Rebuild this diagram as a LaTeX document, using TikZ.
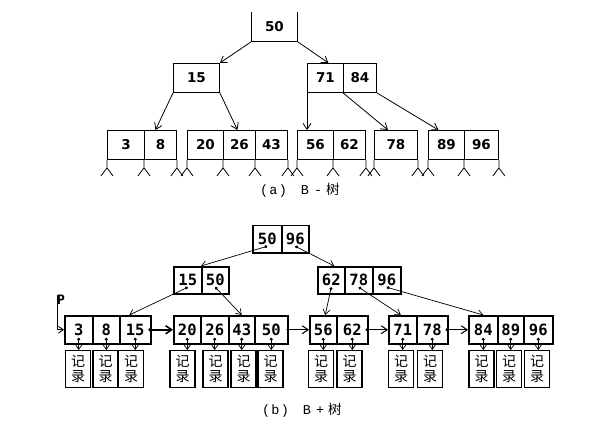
\documentclass[tikz,border=0pt]{standalone}
\usepackage{fontspec}
\usetikzlibrary{arrows.meta}
\newfontfamily\numa{DejaVu Sans}
\newfontfamily\numb{DejaVu Sans Mono}
\newfontfamily\cjk{Noto Sans CJK SC}
\newfontfamily\capmono{Liberation Mono}
\tikzset{
  acell/.style={draw, line width=0.9pt, minimum height=29pt, inner sep=0pt, anchor=north west,
    font=\numa\bfseries\fontsize{13.5}{14}\selectfont},
  bcell/.style={draw, line width=1.5pt, inner sep=0pt, anchor=north west,
    font=\numb\bfseries\fontsize{15.5}{16}\selectfont},
  rec/.style={draw, line width=1.1pt, minimum width=25pt, minimum height=37pt, inner sep=0pt,
    anchor=north, align=center, font=\cjk\fontsize{14}{15}\selectfont},
  aarr/.style={line width=0.8pt, -{Straight Barb[length=6pt,width=8pt]}},
  stem/.style={line width=0.8pt},
  ptr/.style={line width=0.7pt, {Circle[length=3pt]}-{Straight Barb[length=5pt,width=7pt]}},
  lnk/.style={line width=1pt, {Circle[length=3pt]}-{Straight Barb[length=6pt,width=8pt]}},
  captxt/.style={font=\capmono\fontsize{13.5}{14}\selectfont, inner sep=0pt, anchor=west}
}
\begin{document}
\begin{tikzpicture}[x=1pt,y=-1pt]
\useasboundingbox (0,0) rectangle (595,425);
% ---------------- (a) B-tree ----------------
\node[acell, draw=none, minimum width=46pt] (a50) at (251,12) {50};
\draw[line width=0.9pt] (a50.north west) -- (a50.south west) -- (a50.south east) -- (a50.north east);
\node[acell, minimum width=46pt] (a15) at (173,63) {15};
\node[acell, minimum width=36pt] (a71) at (307,63) {71};
\node[acell, minimum width=33pt] (a84) at (343,63) {84};
\node[acell, minimum width=37pt] (a3) at (107,130) {3};
\node[acell, minimum width=32pt] (a8) at (144,130) {8};
\node[acell, minimum width=36pt] (a20) at (187,130) {20};
\node[acell, minimum width=32pt] (a26) at (223,130) {26};
\node[acell, minimum width=32pt] (a43) at (255,130) {43};
\node[acell, minimum width=36pt] (a56) at (297,130) {56};
\node[acell, minimum width=32pt] (a62) at (333,130) {62};
\node[acell, minimum width=43pt] (a78) at (374,130) {78};
\node[acell, minimum width=36pt] (a89) at (428,130) {89};
\node[acell, minimum width=34pt] (a96) at (464,130) {96};
\foreach \c in {a3.south west, a8.south west, a8.south east, a20.south west, a26.south west,
  a43.south west, a43.south east, a56.south west, a62.south west, a62.south east,
  a78.south west, a78.south east, a89.south west, a96.south west, a96.south east}
  {\draw[stem] (\c) -- ++(0,8) coordinate (t) -- ++(-6,8) (t) -- ++(6,8);}
\draw[aarr] (a50.south west) -- (a15.north east);
\draw[aarr] (a50.south east) -- ([xshift=3pt]a71.north);
\draw[aarr] (a15.south west) -- ([xshift=-5pt]a8.north);
\draw[aarr] (a15.south east) -- ([xshift=-2pt]a26.north);
\draw[aarr] (a71.south west) -- (a71.south west |- a56.north);
\draw[aarr] (a84.south west) -- ([xshift=-8pt]a78.north);
\draw[aarr] (a84.south east) -- ([xshift=-8pt]a89.north);
\node[captxt] (capa) at (260,190) {(\hspace{1pt}a\hspace{1.5pt})\hspace{14pt}B\hspace{5pt}-\hspace{4pt}{\cjk 树}};
% ---------------- (b) B+ tree ----------------
\node[bcell, minimum width=29pt, minimum height=27pt] (t50) at (252,225) {50};
\node[bcell, minimum width=27pt, minimum height=27pt] (t96) at (281,225) {96};
\node[bcell, minimum width=28pt, minimum height=27pt] (m15) at (173,266) {15};
\node[bcell, minimum width=27pt, minimum height=27pt] (m50) at (201,266) {50};
\node[bcell, minimum width=27pt, minimum height=27pt] (m62) at (317,266) {62};
\node[bcell, minimum width=28pt, minimum height=27pt] (m78) at (344,266) {78};
\node[bcell, minimum width=28pt, minimum height=27pt] (m96) at (372,266) {96};
% leaves
\node[bcell, minimum width=28pt, minimum height=28pt] (b3) at (64,315) {3};
\node[bcell, minimum width=27pt, minimum height=28pt] (b8) at (92,315) {8};
\node[bcell, minimum width=31pt, minimum height=28pt] (b15) at (119,315) {15};
\node[bcell, minimum width=27pt, minimum height=28pt] (b20) at (173,315) {20};
\node[bcell, minimum width=28pt, minimum height=28pt] (b26) at (200,315) {26};
\node[bcell, minimum width=26pt, minimum height=28pt] (b43) at (228,315) {43};
\node[bcell, minimum width=33pt, minimum height=28pt] (b50l) at (254,315) {50};
\node[bcell, minimum width=27pt, minimum height=28pt] (b56) at (309,315) {56};
\node[bcell, minimum width=31pt, minimum height=28pt] (b62) at (336,315) {62};
\node[bcell, minimum width=28pt, minimum height=28pt] (b71) at (388,315) {71};
\node[bcell, minimum width=31pt, minimum height=28pt] (b78) at (416,315) {78};
\node[bcell, minimum width=29pt, minimum height=28pt] (b84) at (468,315) {84};
\node[bcell, minimum width=26pt, minimum height=28pt] (b89) at (497,315) {89};
\node[bcell, minimum width=29pt, minimum height=28pt] (b96) at (523,315) {96};
% records
\foreach \k/\x in {3/78, 8/105.5, 15/131, 20/182.5, 26/215.5, 43/243.5, 50l/270.5, 56/321,
  62/349.5, 71/401, 78/430, 84/481.5, 89/509, 96/537}
  {\node[rec] (r\k) at (\x,350) {记\\录};
   \draw[ptr] ([yshift=-8pt]b\k.center) -- (b\k.center |- r\k.north);}
% tree pointers
\draw[ptr] ([yshift=-7pt]t50.center) -- (m50.north west);
\draw[ptr] ([yshift=-7pt]t96.center) -- ([xshift=3pt]m62.north);
\draw[ptr] ([yshift=-7pt]m15.center) -- ([xshift=-6pt]b15.north);
\draw[ptr] ([yshift=-7pt]m50.center) -- (b43.north);
\draw[ptr] ([yshift=-7pt]m62.center) -- ([xshift=2pt]b56.north);
\draw[ptr] ([yshift=-7pt]m78.center) -- ([xshift=-2pt]b71.north);
\draw[ptr] ([yshift=-7pt]m96.center) -- (b84.north);
% leaf links
\draw[lnk, line width=1.5pt] ([xshift=-3pt]b15.east) -- (b20.west);
\draw[lnk] ([xshift=-2pt]b50l.east) -- (b56.west);
\draw[lnk] ([xshift=-3pt]b62.east) -- (b71.west);
\draw[lnk] ([xshift=-3pt]b78.east) -- (b84.west);
% P
\node[font=\numb\bfseries\fontsize{13}{13}\selectfont, inner sep=0pt, anchor=north west] (P) at (57,295) {P};
\draw[line width=0.8pt, -{Straight Barb[length=5pt,width=7pt]}] (P.north west) |- (b3.west);
\node[captxt] (capb) at (262,410) {(\hspace{1pt}b\hspace{1.5pt})\hspace{14pt}B\hspace{5pt}+\hspace{4pt}{\cjk 树}};
\end{tikzpicture}
\end{document}
